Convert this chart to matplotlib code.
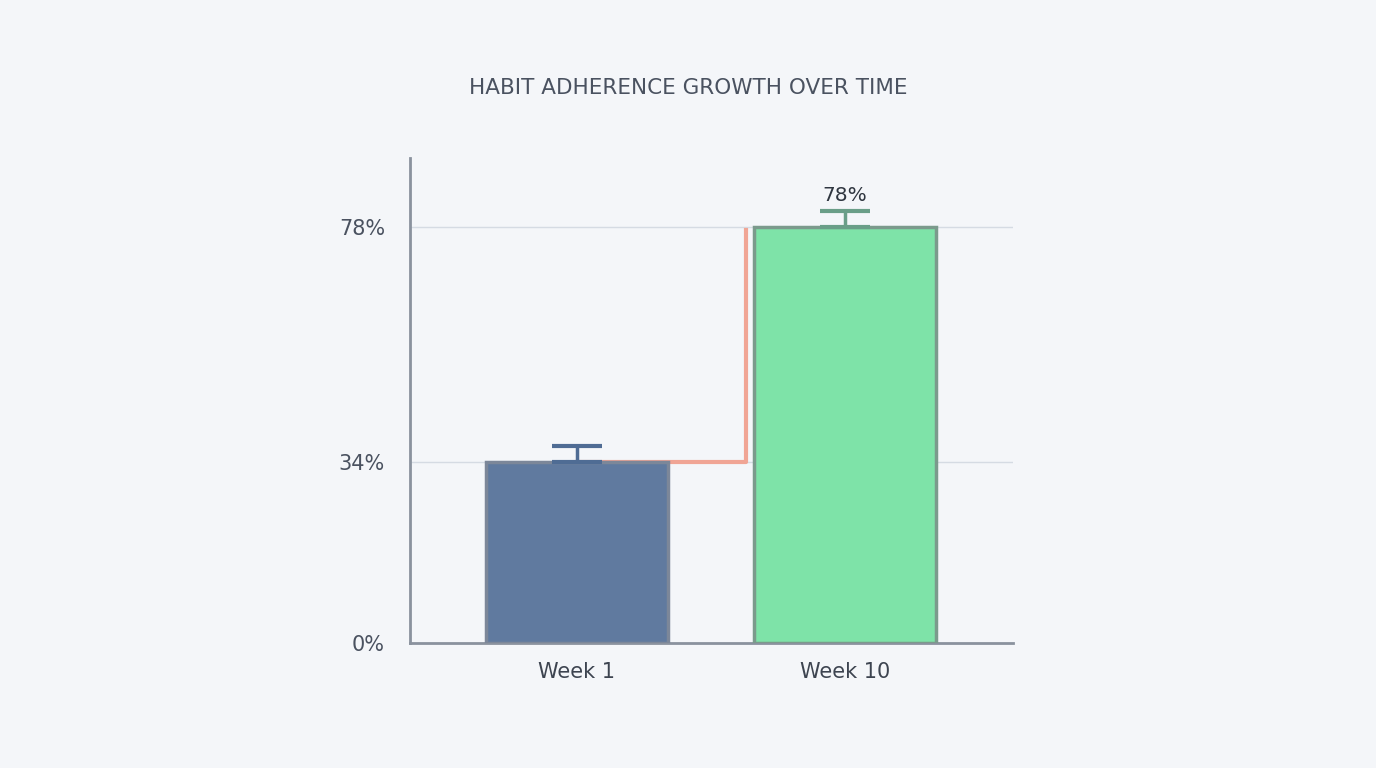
import matplotlib
matplotlib.use("Agg")
import matplotlib.pyplot as plt

categories = ["Week 1", "Week 10"]
values = [34, 78]
errors = [3, 3]
ytick_vals = [0, 34, 78]
ytick_labels = ["0%", "34%", "78%"]

bg = "#f4f6f9"
fig = plt.figure(figsize=(13.76, 7.68), dpi=100, facecolor=bg)
ax = fig.add_axes([0.298, 0.163, 0.438, 0.631], facecolor=bg)
x = [0, 1]
ax.bar(x, values, width=0.68, color=["#607a9f", "#7ee3a8"],
       edgecolor=["#7c8799", "#7b9a8c"], linewidth=2.5, zorder=3)
ecolors = ["#4f6c94", "#6a9e88"]
for xi, v, e, c in zip(x, values, errors, ecolors):
    ax.errorbar(xi, v, yerr=[[0], [e]], color=c, capsize=18, capthick=3,
                elinewidth=2.5, zorder=4)
# step connector
ax.plot([0, 0.63, 0.63], [values[0], values[0], values[1] - 0.5],
        color="#f0a595", linewidth=3, zorder=2)
ax.text(1, values[1] + errors[1] + 1.2, f"{values[1]}%", ha="center", va="bottom",
        fontsize=14.5, color="#2f3640")
for t in ytick_vals[1:]:
    ax.axhline(t, color="#d5dbe3", linewidth=1, zorder=1)
ax.set_xlim(-0.623, 1.627)
ax.set_ylim(0, 91)
ax.set_xticks(x)
ax.set_xticklabels(categories, fontsize=15, color="#3d4450")
ax.set_yticks(ytick_vals)
ax.set_yticklabels(ytick_labels, fontsize=15, color="#4a5260")
ax.tick_params(length=0, pad=14)
ax.tick_params(axis="y", pad=18)
for s in ["top", "right"]:
    ax.spines[s].set_visible(False)
for s in ["left", "bottom"]:
    ax.spines[s].set_color("#8a929e")
    ax.spines[s].set_linewidth(2)
fig.text(0.5, 0.885, "HABIT ADHERENCE GROWTH OVER TIME", ha="center", va="center",
         fontsize=15.5, color="#4a5260", fontweight="medium")
fig.savefig("out.png", dpi=100, facecolor=bg)
